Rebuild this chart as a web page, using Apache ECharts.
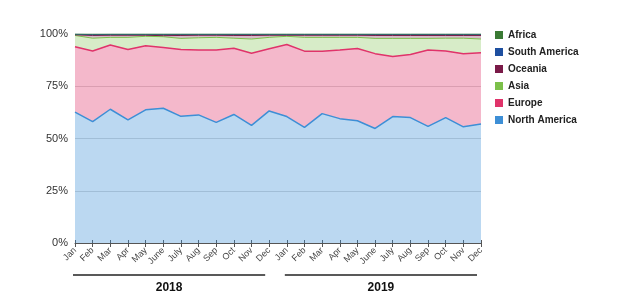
<!DOCTYPE html>
<html>
<head>
<meta charset="utf-8">
<script src="https://cdn.jsdelivr.net/npm/echarts@6/dist/echarts.min.js"></script>
<style>
  html, body { margin: 0; padding: 0; background: #fff; }
  #chart { width: 617px; height: 297px; }
</style>
</head>
<body>
<div id="chart"></div>
<script>
const months = ["Jan", "Feb", "Mar", "Apr", "May", "June", "July", "Aug", "Sep", "Oct", "Nov", "Dec"];
const years = ["2018", "2019"];
const categories = months.concat(months);

const northAmerica = [62.6, 58.1, 64.0, 58.9, 63.7, 64.5, 60.6, 61.3, 57.7, 61.5, 56.3, 63.2,
  60.5, 55.3, 61.9, 59.5, 58.5, 54.8, 60.5, 60.0, 55.8, 60.0, 55.6, 56.9];
const europe = [31.3, 33.8, 30.7, 33.7, 30.7, 29.0, 32.0, 31.1, 34.7, 31.7, 34.5, 29.7,
  34.5, 36.5, 29.9, 32.9, 34.6, 35.8, 28.7, 30.2, 36.5, 31.9, 34.9, 34.1];
const asia = [5.4, 6.1, 3.7, 5.8, 4.5, 5.2, 5.3, 5.8, 6.0, 4.8, 6.8, 5.5,
  3.9, 6.6, 6.6, 6.0, 5.3, 7.3, 8.7, 7.7, 5.6, 6.1, 7.5, 6.6];
const oceania = [0.3, 1.3, 1.0, 1.0, 0.5, 0.5, 1.4, 1.2, 1.0, 1.3, 1.7, 1.0,
  0.5, 1.0, 1.0, 1.0, 1.0, 1.4, 1.4, 1.4, 1.4, 1.3, 1.3, 1.7];
const southAmerica = [0.3, 0.4, 0.4, 0.4, 0.4, 0.6, 0.5, 0.4, 0.4, 0.5, 0.5, 0.4,
  0.4, 0.4, 0.4, 0.4, 0.4, 0.5, 0.5, 0.5, 0.5, 0.5, 0.5, 0.5];
const africa = [0.1, 0.3, 0.2, 0.2, 0.2, 0.2, 0.2, 0.2, 0.2, 0.2, 0.2, 0.2,
  0.2, 0.2, 0.2, 0.2, 0.2, 0.2, 0.2, 0.2, 0.2, 0.2, 0.2, 0.2];

const chart = echarts.init(document.getElementById("chart"));

function areaSeries(name, data, color, opacity, width) {
  return {
    name: name,
    type: "line",
    stack: "total",
    data: data,
    symbol: "none",
    color: color,
    lineStyle: { color: color, width: width },
    areaStyle: { color: color, opacity: opacity },
    emphasis: { disabled: true },
  };
}

chart.setOption({
  animation: false,
  grid: { left: 75, right: 136, top: 34, bottom: 54 },
  legend: {
    orient: "vertical",
    left: 490,
    top: 25,
    itemWidth: 8,
    itemHeight: 8,
    itemGap: 7,
    icon: "rect",
    textStyle: { fontSize: 10, fontWeight: "bold", color: "#222", fontFamily: "Liberation Sans" },
    data: ["Africa", "South America", "Oceania", "Asia", "Europe", "North America"],
  },
  xAxis: [
    {
      type: "category",
      data: categories,
      boundaryGap: false,
      axisLine: { lineStyle: { color: "#555", width: 1 } },
      axisTick: { show: true, length: 4, lineStyle: { color: "#555" }, interval: 0 },
      axisLabel: {
        interval: 0,
        rotate: 45,
        fontSize: 9,
        color: "#444",
        margin: 6,
        fontFamily: "Liberation Sans",
      },
    },
    {
      // short upward ticks so each tick crosses the axis line
      type: "category",
      data: categories,
      position: "bottom",
      boundaryGap: false,
      axisLine: { show: false },
      axisTick: { show: true, inside: true, length: 3, lineStyle: { color: "#555" }, interval: 0 },
      axisLabel: { show: false },
    },
  ],
  yAxis: {
    type: "value",
    min: 0,
    max: 100,
    interval: 25,
    axisLine: { show: false },
    axisTick: { show: false },
    splitLine: { lineStyle: { color: "#d8d8d8" } },
    axisLabel: {
      formatter: "{value}%",
      fontSize: 11,
      color: "#333",
      margin: 7,
      fontFamily: "Liberation Sans",
    },
  },
  series: [
    areaSeries("North America", northAmerica, "#3d8fd6", 0.35, 1.5),
    areaSeries("Europe", europe, "#e0336a", 0.35, 1.5),
    areaSeries("Asia", asia, "#7cc04a", 0.3, 1),
    areaSeries("Oceania", oceania, "#7a1a48", 0.3, 1),
    areaSeries("South America", southAmerica, "#1e4fa0", 0.4, 1),
    areaSeries("Africa", africa, "#3a7a34", 0.4, 1),
  ],
});

// year group brackets under the month labels
const graphics = [];
years.forEach(function (y, i) {
  const x0 = chart.convertToPixel({ xAxisIndex: 0 }, i * 12);
  const x1 = chart.convertToPixel({ xAxisIndex: 0 }, i * 12 + 11);
  graphics.push({
    type: "line",
    shape: { x1: x0 - 2, y1: 275, x2: x1 - 4, y2: 275 },
    style: { stroke: "#222", lineWidth: 1.5 },
  });
  graphics.push({
    type: "text",
    x: (x0 + x1) / 2 - 3,
    y: 288,
    style: {
      text: y,
      fontSize: 12,
      fontWeight: "bold",
      fill: "#111",
      align: "center",
      verticalAlign: "middle",
      fontFamily: "Liberation Sans",
    },
  });
});
chart.setOption({ graphic: graphics });
</script>
</body>
</html>
